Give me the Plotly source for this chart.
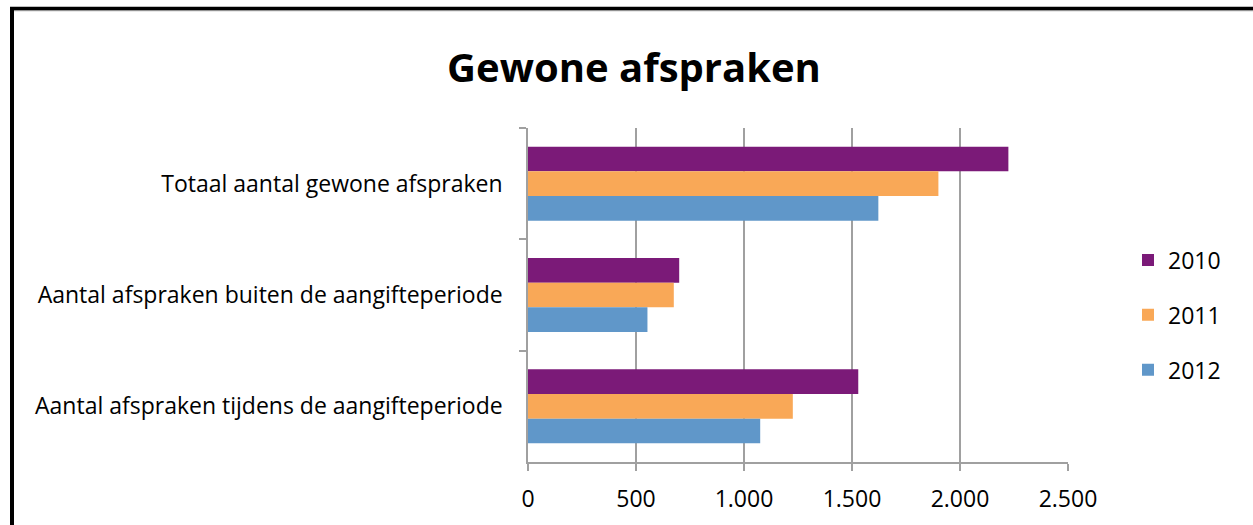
import plotly.graph_objects as go

categories = [
    "Totaal aantal gewone afspraken",
    "Aantal afspraken buiten de aangifteperiode",
    "Aantal afspraken tijdens de aangifteperiode",
]
series_names = ["2010", "2011", "2012"]
values_2010 = [2224, 700, 1529]
values_2011 = [1900, 675, 1226]
values_2012 = [1622, 553, 1075]
x_ticks = [0, 500, 1000, 1500, 2000, 2500]

colors = ["#7B1A78", "#F9A857", "#6097C9"]
font_family = "Open Sans, Lato, DejaVu Sans, sans-serif"

fig = go.Figure()
for name, vals, col in zip(series_names, [values_2010, values_2011, values_2012], colors):
    fig.add_trace(go.Bar(
        y=categories, x=vals, name=name, orientation="h",
        marker=dict(color=col, line=dict(width=0)),
        legendgroup=name,
    ))

W, H = 1253, 525
L, R, T, B = 528, W - 1068, 128, H - 462
pw, ph = W - L - R, H - T - B

def px_x(p):
    return (p - L) / pw

def px_y(p):
    return (H - B - p) / ph

fig.update_layout(
    width=W, height=H,
    margin=dict(l=L, r=R, t=T, b=B, autoexpand=False),
    paper_bgcolor="white", plot_bgcolor="white",
    separators=",.",
    barmode="group", bargap=0.335, bargroupgap=0,
    font=dict(family=font_family, size=23, color="black"),
    title=dict(text="<b>Gewone afspraken</b>", xref="container", x=634 / W, xanchor="center",
               yref="container", y=1 - 68 / H, yanchor="middle",
               font=dict(size=40, family=font_family, color="black")),
    xaxis=dict(range=[0, 2500], tickvals=x_ticks, tickformat=",d",
               showgrid=True, gridcolor="#A0A0A0", gridwidth=1.5,
               showline=True, linecolor="#A0A0A0", linewidth=1.5,
               ticks="outside", ticklen=7, tickcolor="#A0A0A0", tickwidth=1.5,
               ticklabelstandoff=9, zeroline=False,
               tickfont=dict(size=23), fixedrange=True),
    yaxis=dict(autorange="reversed", showline=True, linecolor="#A0A0A0", linewidth=1.5,
               ticks="outside", tickson="boundaries", ticklen=7, tickcolor="#A0A0A0",
               tickwidth=1.5, ticklabelstandoff=19, showgrid=False,
               tickfont=dict(size=23)),
    legend=dict(x=px_x(1128), xanchor="left", y=px_y(315), yanchor="middle",
                font=dict(size=23), tracegroupgap=22, itemwidth=30,
                bgcolor="rgba(0,0,0,0)"),
    showlegend=True,
    shapes=[
        dict(type="line", xref="paper", yref="paper",
             x0=px_x(12), x1=px_x(12), y0=px_y(7), y1=px_y(530),
             line=dict(color="black", width=4)),
        dict(type="line", xref="paper", yref="paper",
             x0=px_x(10), x1=px_x(1260), y0=px_y(8.5), y1=px_y(8.5),
             line=dict(color="black", width=3.5)),
        dict(type="line", xref="paper", yref="paper",
             x0=px_x(14), x1=px_x(1260), y0=px_y(10.7), y1=px_y(10.7),
             line=dict(color="#888888", width=1)),
    ],
)

fig.write_html(
    "out.html",
    config={"displayModeBar": False},
    post_script="document.body.style.margin='0';document.body.style.padding='0';"
                "document.body.style.overflow='hidden';",
)
